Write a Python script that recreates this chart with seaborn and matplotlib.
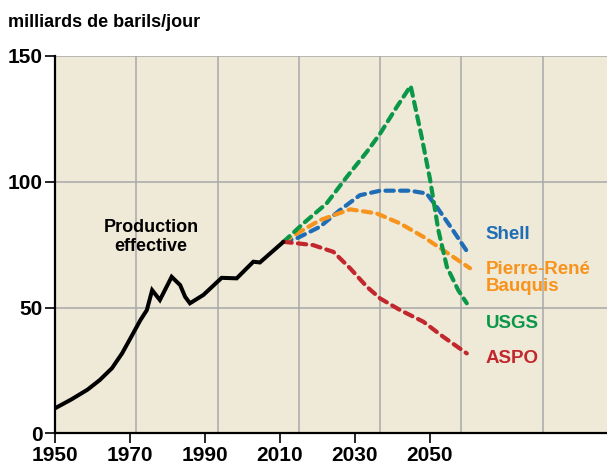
import matplotlib
matplotlib.use("Agg")
import matplotlib.pyplot as plt
import numpy as np
import pandas as pd
import seaborn as sns
from matplotlib.ticker import FixedLocator

# world oil production
prod_years = [1950, 1954, 1958, 1961, 1964, 1966.5, 1969, 1971, 1972.6, 1973.9, 1975.8,
              1978.7, 1980.8, 1982, 1983.2, 1986.5, 1991, 1994.7, 1998.8, 2000.4, 2006.2]
prod_values = [10, 13.5, 17.4, 21.2, 25.9, 31.8, 39.1, 45, 49, 56.9, 53,
               62.2, 58.9, 54.3, 51.7, 55, 61.8, 61.6, 68.2, 67.9, 76.1]

shell_years = [2006.2, 2009.5, 2015.2, 2020.1, 2025, 2030, 2037.3, 2041.4, 2043.9, 2047.6, 2051.7]
shell_values = [76.1, 77.5, 82.1, 88.7, 94.6, 96.4, 96.4, 95.3, 90, 81.4, 71.5]

bauquis_years = [2006.2, 2009.5, 2015.2, 2022.6, 2029.1, 2034.9, 2040.6, 2045.5, 2052.1]
bauquis_values = [76.1, 79.4, 84.7, 89, 87.4, 83.4, 78.1, 72.8, 65.6]

usgs_years = [2006.2, 2011.1, 2016.8, 2021.8, 2026.7, 2030, 2034.1, 2037.5, 2040.2, 2042.3,
              2044.3, 2046.4, 2049.2, 2051.3]
usgs_values = [76.1, 83.4, 91.3, 101.9, 111.8, 119.1, 129.7, 138, 117.8, 100.6,
               80.8, 66.2, 56.9, 51.7]

aspo_years = [2006.2, 2013.5, 2018.5, 2022.6, 2026.7, 2030, 2034.9, 2040.6, 2045.5, 2051.3]
aspo_values = [76.1, 74.8, 72.1, 65.6, 58.3, 53.6, 49, 44.4, 38.4, 31.8]

scenarios = ["Shell", "Pierre-René\nBauquis", "USGS", "ASPO"]
colors = ["#1F6DB5", "#F7941D", "#0A9748", "#C1272D"]
label_values = [79.2, 61.8, 43.6, 29.7]

y_ticks = [0, 50, 100, 150]
x_tick_labels = ["1950", "1970", "1990", "2010", "2030", "2050"]
grid_years = [1970, 1990, 2010, 2030, 2050, 2070]

sns.set_style("ticks")
plt.rcParams["font.family"] = ["Liberation Sans", "DejaVu Sans"]
plt.rcParams.update({
    "text.color": "black",
    "axes.labelcolor": "black",
    "xtick.color": "black",
    "ytick.color": "black",
})

fig = plt.figure(figsize=(6.07, 4.70), dpi=100)
ax = fig.add_axes([0.0906, 0.0777, 0.9094, 0.8038])
ax.set_facecolor("#EFE9D8")

series = [
    (shell_years, shell_values),
    (bauquis_years, bauquis_values),
    (usgs_years, usgs_values),
    (aspo_years, aspo_values),
]
for (yrs, vals), color in zip(series, colors):
    sns.lineplot(x=yrs, y=vals, color=color, linewidth=3.0, ax=ax,
                 linestyle=(0, (2.0, 1.5)), dash_capstyle="round", zorder=3)

sns.lineplot(x=prod_years, y=prod_values, color="black", linewidth=2.9, ax=ax,
             solid_joinstyle="miter", zorder=4)

ax.set_xlim(1950, 2085.8)
ax.set_ylim(0, 150)

# the source draws its year labels on a tighter spacing than its grid
ax.xaxis.set_major_locator(FixedLocator([1950 + 18.45 * i for i in range(len(x_tick_labels))]))
ax.set_xticklabels(x_tick_labels)
ax.xaxis.set_minor_locator(FixedLocator(grid_years))
ax.set_yticks(y_ticks)

ax.grid(False)
ax.xaxis.grid(True, which="minor", color="#A9A9A9", linewidth=1.1)
ax.yaxis.grid(True, which="major", color="#A9A9A9", linewidth=1.1)
ax.set_axisbelow(True)

ax.tick_params(axis="x", which="minor", length=0)
ax.tick_params(axis="both", which="major", length=7, width=1.2, color="black",
               labelsize=15, pad=2)
for lab in ax.get_xticklabels() + ax.get_yticklabels():
    lab.set_fontweight("bold")

for side in ["top", "right"]:
    ax.spines[side].set_visible(False)
for side in ["left", "bottom"]:
    ax.spines[side].set_linewidth(1.6)
    ax.spines[side].set_color("black")

ax.text(1973.6, 78, "Production\neffective", ha="center", va="center",
        fontsize=13, fontweight="bold", linespacing=1.1, zorder=5)
for name, color, yv in zip(scenarios, colors, label_values):
    ax.text(2056, yv, name, ha="left", va="center", color=color,
            fontsize=13.5, fontweight="bold", linespacing=1.05, zorder=5)

fig.text(0.013, 0.953, "milliards de barils/jour", ha="left", va="center",
         fontsize=13, fontweight="bold")

fig.savefig("out.png", dpi=100)
